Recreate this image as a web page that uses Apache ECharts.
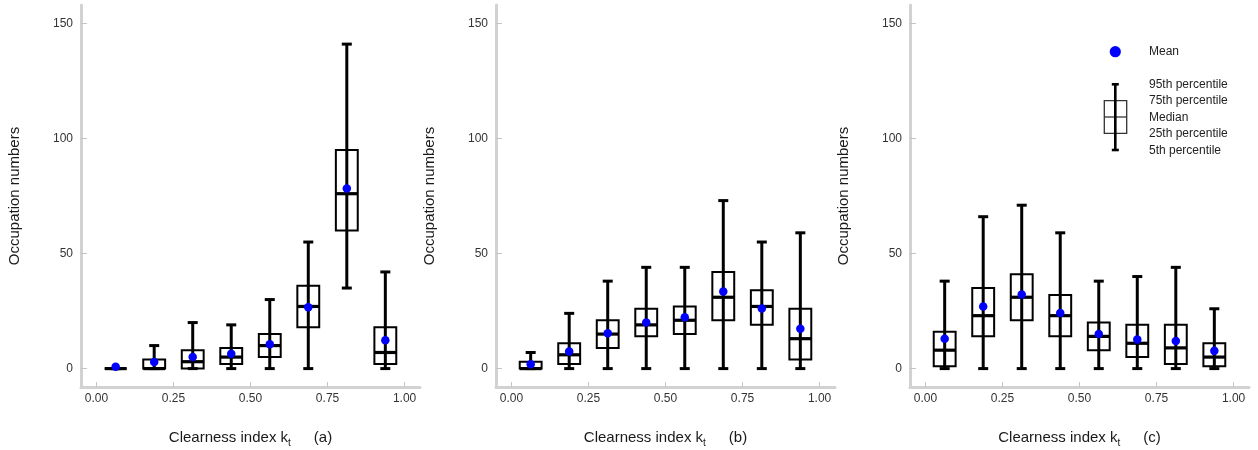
<!DOCTYPE html>
<html>
<head>
<meta charset="utf-8">
<script src="https://cdn.jsdelivr.net/npm/echarts@6/dist/echarts.min.js"></script>
<style>
html,body{margin:0;padding:0;background:#fff;}
#chart{width:1258px;height:450px;}
</style>
</head>
<body>
<div id="chart"></div>
<script>
// ---- data ----
const binCenters = [0.0625, 0.1875, 0.3125, 0.4375, 0.5625, 0.6875, 0.8125, 0.9375];
const xTicks = [0, 0.25, 0.5, 0.75, 1];
const yTicks = [0, 50, 100, 150];
const panelLabels = ['(a)', '(b)', '(c)'];

// panel (a)
const p5A   = [0, 0, 0, 0, 0, 0, 35, 0];
const p25A  = [0, 0, 0, 2, 5, 18, 60, 2];
const medA  = [0, 0, 3, 5, 10, 27, 76, 7];
const p75A  = [0, 4, 8, 9, 15, 36, 95, 18];
const p95A  = [0, 10, 20, 19, 30, 55, 141, 42];
const meanA = [0.8, 2.9, 5, 6.5, 10.6, 26.7, 78.3, 12.3];

// panel (b)
const p5B   = [0, 0, 0, 0, 0, 0, 0, 0];
const p25B  = [0, 2, 9, 14, 15, 21, 19, 4];
const medB  = [0, 6, 15, 19, 21, 31, 27, 13];
const p75B  = [3, 11, 21, 26, 27, 42, 34, 26];
const p95B  = [7, 24, 38, 44, 44, 73, 55, 59];
const meanB = [1.9, 7.4, 15.4, 20, 22.3, 33.5, 26.1, 17.3];

// panel (c)
const p5C   = [0, 0, 0, 0, 0, 0, 0, 0];
const p25C  = [1, 14, 21, 14, 8, 5, 2, 1];
const medC  = [8, 23, 31, 23, 14, 11, 9, 5];
const p75C  = [16, 35, 41, 32, 20, 19, 19, 11];
const p95C  = [38, 66, 71, 59, 38, 40, 44, 26];
const meanC = [13, 27, 32.2, 24.2, 15, 12.6, 12, 7.7];

const legendLabels = ['95th percentile', '75th percentile', 'Median', '25th percentile', '5th percentile'];

// ---- chart ----
const panels = [
  {p5: p5A, p25: p25A, med: medA, p75: p75A, p95: p95A, mean: meanA},
  {p5: p5B, p25: p25B, med: medB, p75: p75B, p95: p95B, mean: meanB},
  {p5: p5C, p25: p25C, med: medC, p75: p75C, p95: p95C, mean: meanC}
];
const gridLefts = [81, 496, 910];
const BOX_W = 0.071;
const FONT = '"Liberation Sans", Arial, sans-serif';

function renderBox(params, api) {
  const x = api.value(0);
  const lo = api.coord([x, api.value(1)]);
  const q1 = api.coord([x, api.value(2)]);
  const md = api.coord([x, api.value(3)]);
  const q3 = api.coord([x, api.value(4)]);
  const hi = api.coord([x, api.value(5)]);
  const hw = api.size([BOX_W, 0])[0] / 2;
  const cap = 5;
  const cx = lo[0];
  return {
    type: 'group',
    children: [
      {type: 'rect', shape: {x: cx - hw, y: q3[1], width: 2 * hw, height: q1[1] - q3[1]},
       style: {fill: 'none', stroke: '#000', lineWidth: 2}},
      {type: 'line', shape: {x1: cx, y1: lo[1], x2: cx, y2: hi[1]},
       style: {stroke: '#000', lineWidth: 3}},
      {type: 'line', shape: {x1: cx - cap, y1: hi[1], x2: cx + cap, y2: hi[1]},
       style: {stroke: '#000', lineWidth: 3}},
      {type: 'line', shape: {x1: cx - cap, y1: lo[1], x2: cx + cap, y2: lo[1]},
       style: {stroke: '#000', lineWidth: 3}},
      {type: 'line', shape: {x1: cx - hw, y1: md[1], x2: cx + hw, y2: md[1]},
       style: {stroke: '#000', lineWidth: 3.2}}
    ]
  };
}

const grids = [], xAxes = [], yAxes = [], series = [];
panels.forEach((p, k) => {
  grids.push({left: gridLefts[k], width: 339, top: 5, bottom: 63, containLabel: false, outerBoundsMode: 'none'});
  xAxes.push({
    type: 'value', gridIndex: k, min: -0.05, max: 1.05,
    name: '{a|Clearness index k}{s|t}{g|}{a|' + panelLabels[k] + '}',
    nameLocation: 'middle', nameGap: 41,
    nameTextStyle: {
      rich: {
        a: {fontSize: 15, fontFamily: FONT, color: '#1a1a1a', lineHeight: 20},
        s: {fontSize: 10, fontFamily: FONT, color: '#1a1a1a', lineHeight: 10, verticalAlign: 'bottom'},
        g: {width: 23, lineHeight: 20}
      }
    },
    splitLine: {show: false},
    axisLine: {show: true, onZero: false, lineStyle: {color: '#d2d2d2', width: 3}},
    axisTick: {show: true, inside: true, length: 5, customValues: xTicks, lineStyle: {color: '#c4c4c4', width: 1}},
    axisLabel: {customValues: xTicks, margin: 6, fontSize: 12, fontFamily: FONT, color: '#333',
      formatter: v => v.toFixed(2)}
  });
  yAxes.push({
    type: 'value', gridIndex: k, min: -8, max: 158,
    name: 'Occupation numbers', nameLocation: 'middle', nameGap: 59, nameRotate: 90,
    nameTextStyle: {fontSize: 15, fontFamily: FONT, color: '#1a1a1a'},
    splitLine: {show: false},
    axisLine: {show: true, onZero: false, lineStyle: {color: '#d2d2d2', width: 3}},
    axisTick: {show: true, inside: true, length: 6, customValues: yTicks, lineStyle: {color: '#c4c4c4', width: 1}},
    axisLabel: {customValues: yTicks, margin: 8, fontSize: 12, fontFamily: FONT, color: '#333',
      formatter: v => String(Math.round(v))}
  });
  series.push({
    type: 'custom', xAxisIndex: k, yAxisIndex: k,
    renderItem: renderBox,
    encode: {x: 0, y: [1, 2, 3, 4, 5]},
    data: binCenters.map((c, i) => [c, p.p5[i], p.p25[i], p.med[i], p.p75[i], p.p95[i]]),
    z: 2, silent: true
  });
  series.push({
    type: 'scatter', xAxisIndex: k, yAxisIndex: k,
    symbol: 'circle', symbolSize: 8.5,
    itemStyle: {color: '#0000ff', opacity: 1},
    data: binCenters.map((c, i) => [c, p.mean[i]]),
    z: 3, silent: true
  });
});

// legend (panel c)
const lgX = 1115.3, txtX = 1149;
const legendGraphics = [
  {type: 'circle', shape: {cx: lgX, cy: 51.7, r: 5.6}, style: {fill: '#0000ff'}},
  {type: 'text', x: txtX, y: 51.7, style: {text: 'Mean', font: '12px ' + FONT, fill: '#222', verticalAlign: 'middle'}},
  {type: 'rect', shape: {x: 1104.3, y: 100.7, width: 22.4, height: 32.6}, style: {fill: 'none', stroke: '#333', lineWidth: 1.3}},
  {type: 'line', shape: {x1: 1104.3, y1: 117, x2: 1126.7, y2: 117}, style: {stroke: '#333', lineWidth: 1.3}},
  {type: 'line', shape: {x1: lgX, y1: 84.3, x2: lgX, y2: 150}, style: {stroke: '#000', lineWidth: 2.6}},
  {type: 'line', shape: {x1: lgX - 3.5, y1: 84.3, x2: lgX + 3.5, y2: 84.3}, style: {stroke: '#000', lineWidth: 2.6}},
  {type: 'line', shape: {x1: lgX - 3.5, y1: 150, x2: lgX + 3.5, y2: 150}, style: {stroke: '#000', lineWidth: 2.6}}
];
const legendYs = [85, 101, 117.5, 133.7, 150.5];
legendLabels.forEach((t, i) => {
  legendGraphics.push({type: 'text', x: txtX, y: legendYs[i],
    style: {text: t, font: '12px ' + FONT, fill: '#222', verticalAlign: 'middle'}});
});

const chart = echarts.init(document.getElementById('chart'), null, {renderer: 'canvas'});
chart.setOption({
  animation: false,
  backgroundColor: '#ffffff',
  grid: grids,
  xAxis: xAxes,
  yAxis: yAxes,
  series: series,
  graphic: legendGraphics
});
</script>
</body>
</html>
